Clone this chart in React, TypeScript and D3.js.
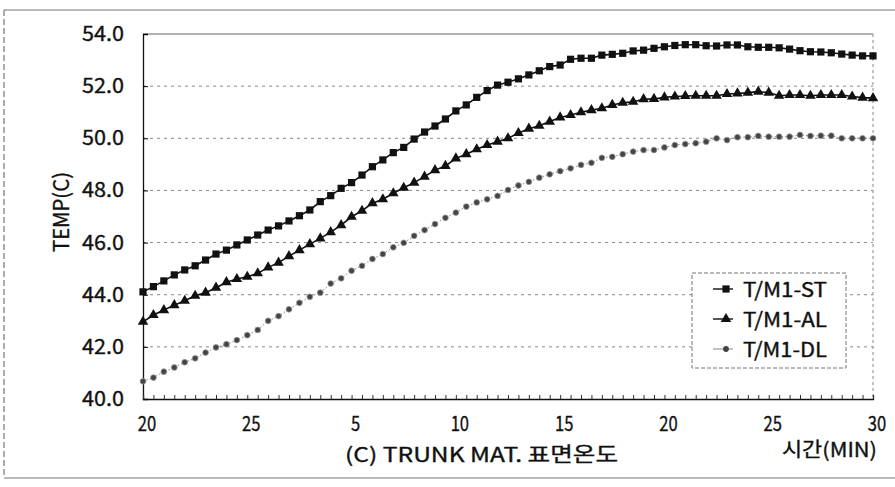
import React, { useEffect, useRef } from "react";
import * as d3 from "d3";

// x positions are sample indices (every 30 s), labelled every 10 samples
const timeLabels = ["20", "25", "5", "10", "15", "20", "25", "30"];
const yTicks = [40, 42, 44, 46, 48, 50, 52, 54];

const stValues = [
  44.11, 44.31, 44.53, 44.76, 44.95, 45.11, 45.33, 45.56, 45.71, 45.91,
  46.10, 46.29, 46.48, 46.64, 46.83, 47.03, 47.25, 47.57, 47.80, 48.08,
  48.30, 48.59, 48.91, 49.17, 49.45, 49.65, 49.97, 50.24, 50.47, 50.74,
  51.05, 51.28, 51.57, 51.83, 52.04, 52.15, 52.28, 52.43, 52.59, 52.75,
  52.81, 53.03, 53.07, 53.07, 53.19, 53.22, 53.26, 53.35, 53.38, 53.45,
  53.51, 53.56, 53.59, 53.59, 53.55, 53.54, 53.58, 53.58, 53.51, 53.49,
  53.49, 53.47, 53.42, 53.36, 53.32, 53.31, 53.28, 53.23, 53.19, 53.16, 53.16,
];
const alValues = [
  42.96, 43.22, 43.41, 43.60, 43.77, 43.96, 44.08, 44.27, 44.48, 44.60,
  44.69, 44.82, 45.05, 45.23, 45.48, 45.71, 45.94, 46.16, 46.40, 46.67,
  46.99, 47.22, 47.51, 47.66, 47.89, 48.10, 48.30, 48.53, 48.78, 48.94,
  49.23, 49.39, 49.58, 49.74, 49.87, 50.00, 50.20, 50.37, 50.48, 50.64,
  50.80, 50.89, 51.00, 51.08, 51.15, 51.28, 51.36, 51.40, 51.50, 51.51,
  51.57, 51.60, 51.62, 51.63, 51.63, 51.63, 51.70, 51.72, 51.75, 51.79,
  51.75, 51.63, 51.66, 51.66, 51.63, 51.66, 51.66, 51.66, 51.60, 51.56, 51.54,
];
const dlValues = [
  40.68, 40.82, 41.05, 41.21, 41.41, 41.56, 41.78, 41.98, 42.10, 42.26,
  42.45, 42.65, 43.00, 43.18, 43.44, 43.69, 43.92, 44.08, 44.43, 44.63,
  44.92, 45.11, 45.37, 45.56, 45.82, 45.99, 46.26, 46.48, 46.71, 46.95,
  47.15, 47.38, 47.54, 47.66, 47.79, 48.02, 48.19, 48.33, 48.49, 48.62,
  48.74, 48.85, 48.98, 49.06, 49.25, 49.29, 49.39, 49.49, 49.55, 49.55,
  49.65, 49.74, 49.78, 49.81, 49.87, 50.00, 49.93, 50.04, 50.04, 50.09,
  50.06, 50.06, 50.06, 50.13, 50.09, 50.10, 50.10, 50.00, 50.00, 50.00, 50.00,
];
const seriesNames = ["T/M1-ST", "T/M1-AL", "T/M1-DL"];

const W = 895;
const H = 487;
const FONT = "'Noto Sans CJK KR', 'Noto Sans', sans-serif";

export default function App() {
  const ref = useRef<SVGSVGElement>(null);

  useEffect(() => {
    const svg = d3.select(ref.current).html(null);
    const n = stValues.length - 1;
    const x = d3.scaleLinear().domain([0, n]).range([143, 873]);
    const y = d3.scaleLinear().domain([40, 54]).range([399, 34]);

    const label = (sel: any, size: number) =>
      sel.attr("font-family", FONT).attr("font-size", size)
        .attr("fill", "#111").attr("stroke", "#111").attr("stroke-width", 0.35)
        .attr("lengthAdjust", "spacingAndGlyphs");

    // outer frame of the scanned figure
    const frame = svg.append("g").attr("stroke", "#777").attr("stroke-width", 1.2);
    frame.append("line").attr("x1", 4).attr("x2", W).attr("y1", 10).attr("y2", 10);
    frame.append("line").attr("x1", 4).attr("x2", W).attr("y1", 478).attr("y2", 478);
    frame.append("line").attr("x1", 4).attr("x2", 4).attr("y1", 10).attr("y2", 478)
      .attr("stroke-dasharray", "6,3");

    // grid
    svg.append("g")
      .selectAll("line")
      .data(yTicks.filter((t) => t > 40 && t < 54))
      .join("line")
      .attr("x1", x(0)).attr("x2", x(n))
      .attr("y1", (d) => y(d)).attr("y2", (d) => y(d))
      .attr("stroke", "#888").attr("stroke-dasharray", "3,4");

    // plot border
    svg.append("line").attr("x1", x(0)).attr("x2", x(n)).attr("y1", y(54)).attr("y2", y(54))
      .attr("stroke", "#666").attr("stroke-width", 1.2);
    svg.append("line").attr("x1", x(n)).attr("x2", x(n)).attr("y1", y(54)).attr("y2", y(40))
      .attr("stroke", "#888").attr("stroke-dasharray", "3,3");

    // y axis
    const yAxis = svg.append("g").attr("transform", `translate(${x(0)},0)`)
      .call(d3.axisRight(y).tickValues(yTicks).tickSize(5).tickFormat(() => ""));
    yAxis.select(".domain").attr("stroke", "#111").attr("stroke-width", 1.3);
    svg.append("g")
      .selectAll("text")
      .data(yTicks)
      .join("text")
      .attr("x", 82).attr("y", (d) => y(d) + 7)
      .attr("textLength", 42)
      .call(label, 20)
      .text((d) => d.toFixed(1));

    // x axis with a small inward tick per sample
    const xAxis = svg.append("g").attr("transform", `translate(0,${y(40)})`)
      .call(d3.axisTop(x).tickValues(d3.range(0, n + 1)).tickSize(4).tickFormat(() => ""));
    xAxis.select(".domain").attr("stroke", "#111").attr("stroke-width", 1.3);
    xAxis.selectAll(".tick line").attr("stroke", "#333");
    svg.append("g")
      .selectAll("text")
      .data(timeLabels)
      .join("text")
      .attr("x", (d, i) => x(i * 10) + 4 - d.length * 4.6).attr("y", 431)
      .attr("textLength", (d) => d.length * 9.2)
      .call(label, 20)
      .text((d) => d);

    // axis titles
    svg.append("text")
      .attr("x", 345).attr("y", 462)
      .attr("textLength", 273)
      .call(label, 20)
      .text("(C) TRUNK MAT. 표면온도");
    svg.append("text")
      .attr("x", 782).attr("y", 457)
      .attr("textLength", 95)
      .call(label, 20)
      .text("시간(MIN)");
    svg.append("text")
      .attr("transform", "translate(69,252) rotate(-90)")
      .attr("textLength", 80)
      .call(label, 21)
      .text("TEMP(C)");

    const line = d3.line<number>().x((_, i) => x(i)).y((d) => y(d));
    const sqr = d3.symbol().type(d3.symbolSquare).size(52);
    const tri = d3.symbol().type(d3.symbolTriangle).size(48);
    const dot = d3.symbol().type(d3.symbolCircle).size(26);

    const plot = svg.append("g");
    plot.append("path").datum(dlValues).attr("d", line).attr("fill", "none")
      .attr("stroke", "#888").attr("stroke-width", 1).attr("stroke-dasharray", "1.5,2");
    plot.append("g").selectAll("path").data(dlValues).join("path")
      .attr("transform", (d, i) => `translate(${x(i)},${y(d)})`)
      .attr("d", dot).attr("fill", "#444").attr("stroke", "#999").attr("stroke-width", 0.8);

    plot.append("path").datum(alValues).attr("d", line).attr("fill", "none")
      .attr("stroke", "#111").attr("stroke-width", 1.6);
    plot.append("g").selectAll("path").data(alValues).join("path")
      .attr("transform", (d, i) => `translate(${x(i)},${y(d)})`)
      .attr("d", tri).attr("fill", "#111");

    plot.append("path").datum(stValues).attr("d", line).attr("fill", "none")
      .attr("stroke", "#111").attr("stroke-width", 1.6);
    plot.append("g").selectAll("path").data(stValues).join("path")
      .attr("transform", (d, i) => `translate(${x(i)},${y(d)})`)
      .attr("d", sqr).attr("fill", "#111");

    // legend
    const lg = svg.append("g").attr("transform", "translate(692,273)");
    lg.append("rect").attr("width", 154).attr("height", 95)
      .attr("fill", "#fff").attr("stroke", "#777").attr("stroke-dasharray", "4,2");
    const marks = [sqr, tri, dot];
    seriesNames.forEach((name, i) => {
      const cy = 16 + i * 30;
      const row = lg.append("g").attr("transform", `translate(0,${cy})`);
      row.append("line").attr("x1", 21).attr("x2", 41)
        .attr("stroke", i === 2 ? "#888" : "#111")
        .attr("stroke-width", i === 2 ? 1 : 1.4);
      row.append("path").attr("transform", "translate(34,0)")
        .attr("d", marks[i]).attr("fill", i === 2 ? "#444" : "#111");
      row.append("text").attr("x", 51).attr("y", 8)
        .attr("textLength", 84)
        .call(label, 20)
        .text(name);
    });
  }, []);

  return (
    <svg
      ref={ref}
      width={W}
      height={H}
      style={{ position: "absolute", left: 0, top: 0, background: "#fff" }}
    />
  );
}
